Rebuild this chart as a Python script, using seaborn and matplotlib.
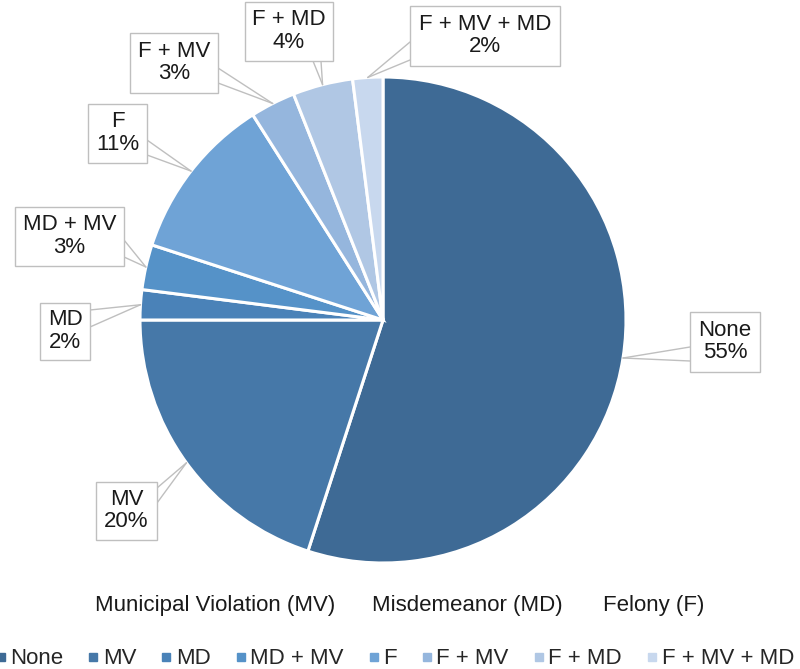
import matplotlib
matplotlib.use("Agg")
import matplotlib.pyplot as plt
import seaborn as sns
from matplotlib.lines import Line2D
from matplotlib.patches import Rectangle
import numpy as np

sns.set_theme(style="white")
plt.rcParams['font.family'] = ['Liberation Sans', 'DejaVu Sans']

categories = ["None", "MV", "MD", "MD + MV", "F", "F + MV", "F + MD", "F + MV + MD"]
values = [55, 20, 2, 3, 11, 3, 4, 2]
colors = ["#3E6A95", "#4678A8", "#4A82B8", "#5592C8", "#6FA3D6", "#95B6DD", "#B0C7E4", "#C8D8EE"]
header = ["Municipal Violation (MV)", "Misdemeanor (MD)", "Felony (F)"]

H = 669
# label boxes in image pixels (x0, y0, x1, y1) and pointer base points
boxes = {
    "None": ((690, 312, 760, 372), [(690, 347), (690, 361)]),
    "MV": ((96, 482, 157, 540), [(157, 488), (157, 503)]),
    "MD": ((40, 303, 90, 360), [(90, 310), (90, 327)]),
    "MD + MV": ((15, 207, 124, 266), [(124, 240), (124, 257)]),
    "F": ((88, 104, 147, 163), [(147, 140), (147, 155)]),
    "F + MV": ((130, 33, 218, 93), [(218, 68), (218, 83)]),
    "F + MD": ((245, 2, 333, 61), [(313, 61), (321, 61)]),
    "F + MV + MD": ((410, 6, 560, 66), [(410, 42), (410, 60)]),
}

fig = plt.figure(figsize=(8, 6.69), dpi=100)
ax = fig.add_axes([0, 0, 1, 1])

cx, cy, R = 383, H - 320, 243
wedges, _ = ax.pie(values, colors=colors, startangle=90, counterclock=False,
                   center=(cx, cy), radius=R, frame=True,
                   wedgeprops=dict(edgecolor="white", linewidth=2.2))
ax.set_xlim(0, 800)
ax.set_ylim(0, H)
ax.set_aspect("equal")
ax.axis("off")

for w, cat, v in zip(wedges, categories, values):
    mid = np.deg2rad((w.theta1 + w.theta2) / 2)
    tip = (cx + R * np.cos(mid), cy + R * np.sin(mid))
    (x0, y0, x1, y1), base = boxes[cat]
    for bx, by in base:
        ax.plot([bx, tip[0]], [H - by, tip[1]], color="#BFBFBF", lw=1, zorder=3)
    ax.add_patch(Rectangle((x0, H - y1), x1 - x0, y1 - y0, facecolor="white",
                           edgecolor="#BFBFBF", lw=1, zorder=4))
    ax.text((x0 + x1) / 2, H - (y0 + y1) / 2 + 0.5, f"{cat}\n{v}%", ha="center", va="center",
            fontsize=16, color="#1a1a1a", zorder=5, linespacing=1.12)

for txt, x in zip(header, [95, 372, 603]):
    ax.text(x, H - 606, txt, ha="left", va="center", fontsize=16, color="#1a1a1a")

handles = [Line2D([0], [0], marker="s", color="none", markerfacecolor=c, markeredgecolor=c,
                  markersize=5.5) for c in colors]
fig.legend(handles, categories, loc="center left", bbox_to_anchor=(-0.004, 1 - 659 / H), ncol=8,
           frameon=False, fontsize=16, handlelength=0.35, handletextpad=0.25,
           columnspacing=1.18, borderaxespad=0, borderpad=0)

fig.savefig("out.png", dpi=100, facecolor="white")
